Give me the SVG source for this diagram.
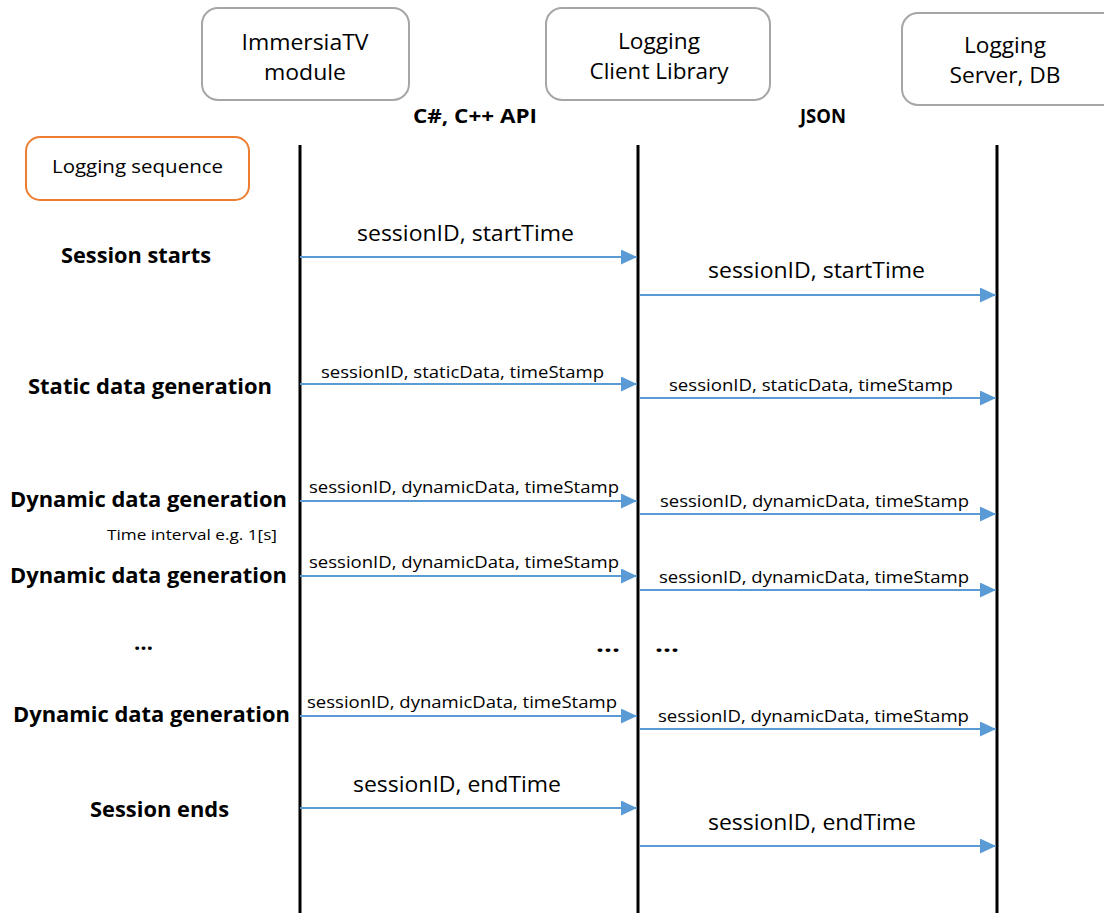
<svg xmlns="http://www.w3.org/2000/svg" width="1104" height="913" viewBox="0 0 1104 913">
  <style>
    .actor { fill: #ffffff; stroke: #a6a6a6; stroke-width: 2; }
    .seq { fill: #ffffff; stroke: #ed7d31; stroke-width: 2; }
    .life { stroke: #000000; stroke-width: 3; }
    .msg { stroke: #5b9bd5; stroke-width: 2; fill: none; marker-end: url(#head); }
    text { font-family: "Open Sans", "Liberation Sans", sans-serif; fill: #000000; }
    .name { font-size: 22px; text-anchor: middle; }
    .proto { font-size: 20px; font-weight: bold; }
    .big { font-size: 22px; }
    .small { font-size: 17px; }
    .legend { font-size: 18.5px; }
    .step { font-size: 22px; font-weight: bold; }
    .note { font-size: 15px; }
    .dots { font-size: 22px; font-weight: bold; }
  </style>
  <defs>
    <marker id="head" markerUnits="userSpaceOnUse" markerWidth="16" markerHeight="15" refX="16" refY="7.5" orient="auto">
      <path d="M0,0 L16,7.5 L0,15 z" fill="#5b9bd5"/>
    </marker>
  </defs>
  <rect width="1104" height="913" fill="#ffffff"/>

  <!-- participants -->
  <g id="immersiatv">
    <rect class="actor" x="202" y="8" width="207" height="92" rx="16"/>
    <text class="name" x="305" y="50" textLength="127" lengthAdjust="spacingAndGlyphs">ImmersiaTV</text>
    <text class="name" x="305" y="80" textLength="82" lengthAdjust="spacingAndGlyphs">module</text>
  </g>
  <g id="client-lib">
    <rect class="actor" x="546" y="8" width="224" height="92" rx="16"/>
    <text class="name" x="659" y="49" textLength="82" lengthAdjust="spacingAndGlyphs">Logging</text>
    <text class="name" x="659" y="79" textLength="139" lengthAdjust="spacingAndGlyphs">Client Library</text>
  </g>
  <g id="server">
    <rect class="actor" x="902" y="13" width="220" height="92" rx="16"/>
    <text class="name" x="1005" y="53" textLength="82" lengthAdjust="spacingAndGlyphs">Logging</text>
    <text class="name" x="1005" y="83" textLength="111" lengthAdjust="spacingAndGlyphs">Server, DB</text>
  </g>
  <g id="interfaces">
    <text class="proto" x="413" y="123" textLength="124" lengthAdjust="spacingAndGlyphs">C#, C++ API</text>
    <text class="proto" x="800" y="123" textLength="46" lengthAdjust="spacingAndGlyphs">JSON</text>
  </g>
  <g id="legend">
    <rect class="seq" x="26" y="137" width="223" height="63" rx="14"/>
    <text class="legend" x="52" y="173" textLength="171" lengthAdjust="spacingAndGlyphs">Logging sequence</text>
  </g>

  <!-- lifelines -->
  <g id="lifelines">
    <line class="life" x1="300" y1="145" x2="300" y2="913"/>
    <line class="life" x1="638" y1="145" x2="638" y2="913"/>
    <line class="life" x1="997" y1="145" x2="997" y2="913"/>
  </g>

  <!-- step labels -->
  <g id="steps">
    <text class="step" x="61" y="263" textLength="150" lengthAdjust="spacingAndGlyphs">Session starts</text>
    <text class="step" x="28" y="394" textLength="244" lengthAdjust="spacingAndGlyphs">Static data generation</text>
    <text class="step" x="10" y="507" textLength="277" lengthAdjust="spacingAndGlyphs">Dynamic data generation</text>
    <text class="note" x="107" y="540" textLength="170" lengthAdjust="spacingAndGlyphs">Time interval e.g. 1[s]</text>
    <text class="step" x="10" y="583" textLength="277" lengthAdjust="spacingAndGlyphs">Dynamic data generation</text>
    <text class="dots" x="134" y="650" textLength="19" lengthAdjust="spacingAndGlyphs">…</text>
    <text class="step" x="13" y="722" textLength="277" lengthAdjust="spacingAndGlyphs">Dynamic data generation</text>
    <text class="step" x="90" y="817" textLength="139" lengthAdjust="spacingAndGlyphs">Session ends</text>
  </g>

  <!-- messages -->
  <g id="connectors">
    <line class="msg" x1="300" y1="257" x2="637" y2="257"/>
    <line class="msg" x1="640" y1="295" x2="996" y2="295"/>
    <line class="msg" x1="300" y1="384" x2="637" y2="384"/>
    <line class="msg" x1="640" y1="398" x2="996" y2="398"/>
    <line class="msg" x1="300" y1="501" x2="637" y2="501"/>
    <line class="msg" x1="640" y1="514" x2="996" y2="514"/>
    <line class="msg" x1="300" y1="576" x2="637" y2="576"/>
    <line class="msg" x1="640" y1="590" x2="996" y2="590"/>
    <line class="msg" x1="300" y1="716" x2="637" y2="716"/>
    <line class="msg" x1="640" y1="729" x2="996" y2="729"/>
    <line class="msg" x1="300" y1="808" x2="637" y2="808"/>
    <line class="msg" x1="640" y1="846" x2="996" y2="846"/>
  </g>

  <!-- message labels -->
  <g id="message-labels">
    <text class="big" x="357" y="241" textLength="217" lengthAdjust="spacingAndGlyphs">sessionID, startTime</text>
    <text class="big" x="708" y="278" textLength="217" lengthAdjust="spacingAndGlyphs">sessionID, startTime</text>
    <text class="small" x="321" y="378" textLength="283" lengthAdjust="spacingAndGlyphs">sessionID, staticData, timeStamp</text>
    <text class="small" x="669" y="391" textLength="284" lengthAdjust="spacingAndGlyphs">sessionID, staticData, timeStamp</text>
    <text class="small" x="309" y="493" textLength="310" lengthAdjust="spacingAndGlyphs">sessionID, dynamicData, timeStamp</text>
    <text class="small" x="660" y="507" textLength="309" lengthAdjust="spacingAndGlyphs">sessionID, dynamicData, timeStamp</text>
    <text class="small" x="309" y="568" textLength="310" lengthAdjust="spacingAndGlyphs">sessionID, dynamicData, timeStamp</text>
    <text class="small" x="659" y="583" textLength="310" lengthAdjust="spacingAndGlyphs">sessionID, dynamicData, timeStamp</text>
    <text class="dots" x="596" y="652" textLength="24" lengthAdjust="spacingAndGlyphs">…</text>
    <text class="dots" x="655" y="652" textLength="24" lengthAdjust="spacingAndGlyphs">…</text>
    <text class="small" x="307" y="708" textLength="310" lengthAdjust="spacingAndGlyphs">sessionID, dynamicData, timeStamp</text>
    <text class="small" x="658" y="722" textLength="311" lengthAdjust="spacingAndGlyphs">sessionID, dynamicData, timeStamp</text>
    <text class="big" x="353" y="792" textLength="208" lengthAdjust="spacingAndGlyphs">sessionID, endTime</text>
    <text class="big" x="708" y="830" textLength="208" lengthAdjust="spacingAndGlyphs">sessionID, endTime</text>
  </g>
</svg>
